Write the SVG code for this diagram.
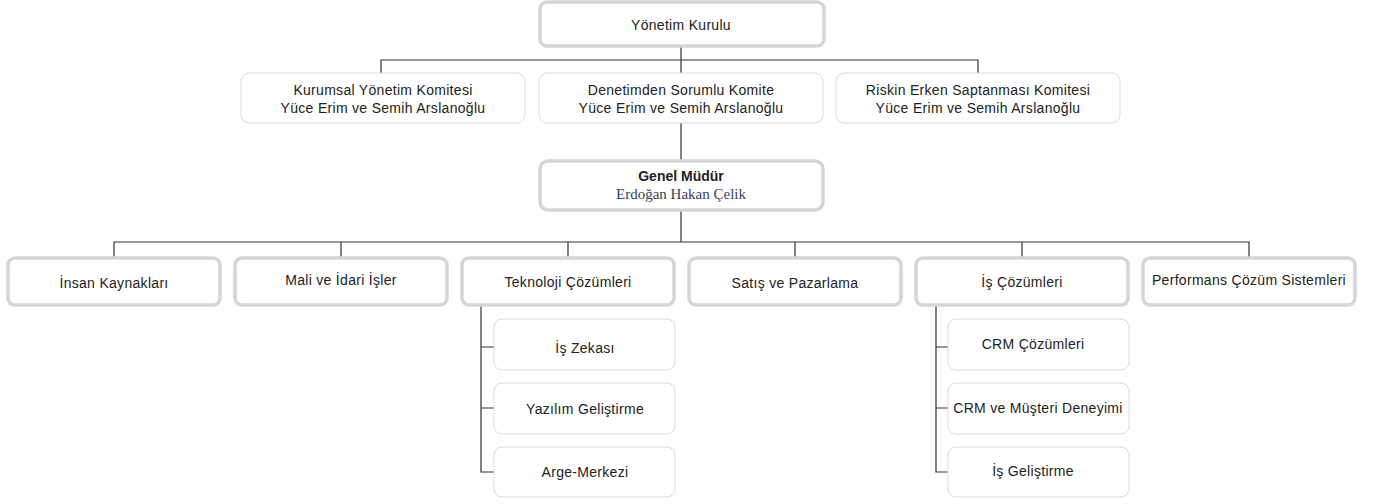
<svg xmlns="http://www.w3.org/2000/svg" width="1378" height="504" viewBox="0 0 1378 504">
<style>
.thick{fill:#fff;stroke:#d6d6d6;stroke-width:3.5}
.thin{fill:#fff;stroke:#dcdcdc;stroke-width:1}
.t{font-family:"Liberation Sans",Arial,sans-serif;font-size:14px;letter-spacing:0.3px;fill:#222;text-anchor:middle}
.b{font-weight:bold;letter-spacing:0}
.s{font-family:"Liberation Serif","Times New Roman",serif;font-size:15px;fill:#3a3f5a;text-anchor:middle}
.c{fill:none;stroke:#333;stroke-width:1.2}
</style>
<rect width="1378" height="504" fill="#fff"/>
<g id="connectors">
<path class="c" d="M681 46V60M381 73V60H978V73M681 60V73M681 123V160M681 210V242M114 258V242H1249V258M341 242V258M568 242V258M795 242V258M1022 242V258"/>
<path class="c" d="M481 305V472H494M481 347H494M481 408H494"/>
<path class="c" d="M936 305V472H948M936 347H948M936 408H948"/>
</g>
<g id="yonetim-kurulu"><rect class="thick" x="540" y="2" width="284" height="44" rx="7"/><text class="t" x="681" y="30">Yönetim Kurulu</text></g>
<g id="kurumsal"><rect class="thin" x="241" y="73" width="284" height="50" rx="8"/><text class="t" x="383" y="95">Kurumsal Yönetim Komitesi</text><text class="t" x="383" y="113">Yüce Erim ve Semih Arslanoğlu</text></g>
<g id="denetim"><rect class="thin" x="539" y="73" width="284" height="50" rx="8"/><text class="t" x="681" y="95">Denetimden Sorumlu Komite</text><text class="t" x="681" y="113">Yüce Erim ve Semih Arslanoğlu</text></g>
<g id="riskin"><rect class="thin" x="836" y="73" width="284" height="50" rx="8"/><text class="t" x="978" y="95">Riskin Erken Saptanması Komitesi</text><text class="t" x="978" y="113">Yüce Erim ve Semih Arslanoğlu</text></g>
<g id="genel-mudur"><rect class="thick" x="540" y="161" width="283" height="49" rx="8"/><text class="t b" x="681" y="181">Genel Müdür</text><text class="s" x="681" y="199">Erdoğan Hakan Çelik</text></g>
<g id="insan"><rect class="thick" x="8" y="258" width="212" height="47" rx="7"/><text class="t" x="114" y="288">İnsan Kaynakları</text></g>
<g id="mali"><rect class="thick" x="235" y="258" width="212" height="47" rx="7"/><text class="t" x="341" y="285">Mali ve İdari İşler</text></g>
<g id="teknoloji"><rect class="thick" x="462" y="258" width="212" height="47" rx="7"/><text class="t" x="568" y="287">Teknoloji Çözümleri</text></g>
<g id="satis"><rect class="thick" x="689" y="258" width="212" height="47" rx="7"/><text class="t" x="795" y="288">Satış ve Pazarlama</text></g>
<g id="is-cozumleri"><rect class="thick" x="916" y="258" width="212" height="47" rx="7"/><text class="t" x="1022" y="287">İş Çözümleri</text></g>
<g id="performans"><rect class="thick" x="1143" y="258" width="212" height="47" rx="7"/><text class="t" x="1249" y="285">Performans Çözüm Sistemleri</text></g>
<g id="is-zekasi"><rect class="thin" x="494" y="319" width="181" height="51" rx="8"/><text class="t" x="585" y="353">İş Zekası</text></g>
<g id="yazilim"><rect class="thin" x="494" y="383" width="181" height="51" rx="8"/><text class="t" x="585" y="414">Yazılım Geliştirme</text></g>
<g id="arge"><rect class="thin" x="494" y="447" width="181" height="50" rx="8"/><text class="t" x="585" y="477">Arge-Merkezi</text></g>
<g id="crm"><rect class="thin" x="948" y="319" width="181" height="51" rx="8"/><text class="t" x="1033" y="349">CRM Çözümleri</text></g>
<g id="crm-musteri"><rect class="thin" x="948" y="383" width="181" height="51" rx="8"/><text class="t" x="1038" y="413">CRM ve Müşteri Deneyimi</text></g>
<g id="is-gelistirme"><rect class="thin" x="948" y="447" width="181" height="50" rx="8"/><text class="t" x="1033" y="476">İş Geliştirme</text></g>
</svg>
